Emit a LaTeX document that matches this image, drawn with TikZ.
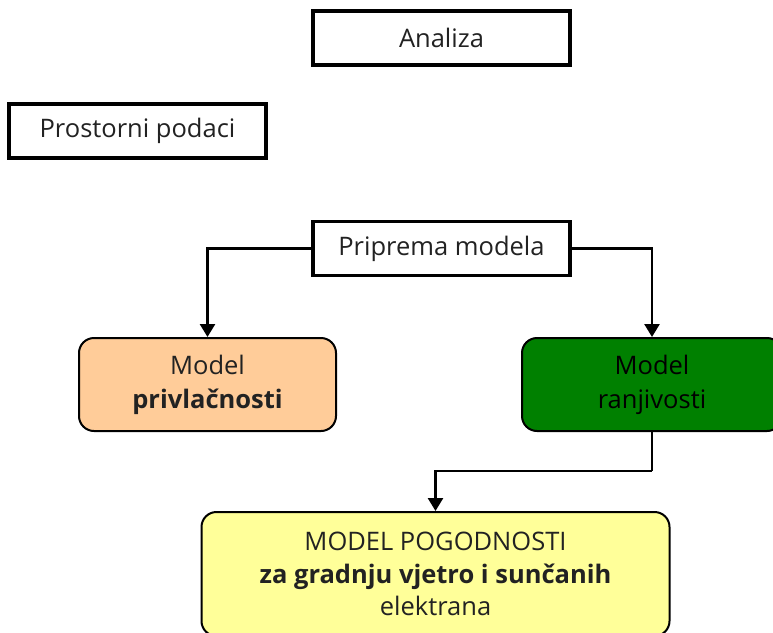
\documentclass[tikz,border=0pt]{standalone}
\usepackage{fontspec}
\setmainfont{Open Sans}
\usetikzlibrary{arrows.meta}
\definecolor{peach}{HTML}{FFCC99}
\definecolor{dgreen}{HTML}{008000}
\definecolor{lyellow}{HTML}{FFFF99}
\definecolor{txt}{HTML}{222222}
\begin{document}
\begin{tikzpicture}[x=1pt,y=-1pt,
  sqbox/.style={draw=black,line width=3.2pt,fill=white,minimum width=257pt,minimum height=54pt,inner sep=0pt,font=\fontsize{25.5}{30}\selectfont,text=txt},
  rbox/.style={draw=black,line width=2pt,rounded corners=15pt,inner sep=0pt,font=\fontsize{25.5}{34}\selectfont,align=center,text=txt},
  conn/.style={line width=2.6pt,-{Triangle[width=15pt,length=13pt]}},
  line/.style={line width=2.6pt}]
\useasboundingbox (0,0) rectangle (773,632);
\begin{scope}
\clip (0,0) rectangle (773,632);
\node[sqbox] (an) at (441.5,38) {Analiza};
\node[sqbox] (pp) at (137.5,131) {Prostorni podaci};
\node[sqbox] (pm) at (441.5,248.5) {Priprema modela};
\node[rbox,fill=peach,minimum width=257pt,minimum height=93pt] (mp) at (207.5,384.5) {Model\\\textbf{privlačnosti}};
\node[rbox,fill=dgreen,minimum width=260pt,minimum height=93pt,text=black] (mr) at (652,384.5) {Model\\ranjivosti};
\node[rbox,fill=lyellow,minimum width=468pt,minimum height=124pt,font=\fontsize{25.5}{32.5}\selectfont] (mpo) at (435.5,574) {MODEL POGODNOSTI\\\textbf{za gradnju vjetro i sunčanih}\\elektrana};
\coordinate (c1) at (652,471);
\draw[conn] (pm.west) -| (mp.north);
\draw[conn] (pm.east) -| (mr.north);
\draw[line] (mr.south) -- (c1);
\draw[conn] (c1) -| (mpo.north);
\end{scope}
\end{tikzpicture}
\end{document}
